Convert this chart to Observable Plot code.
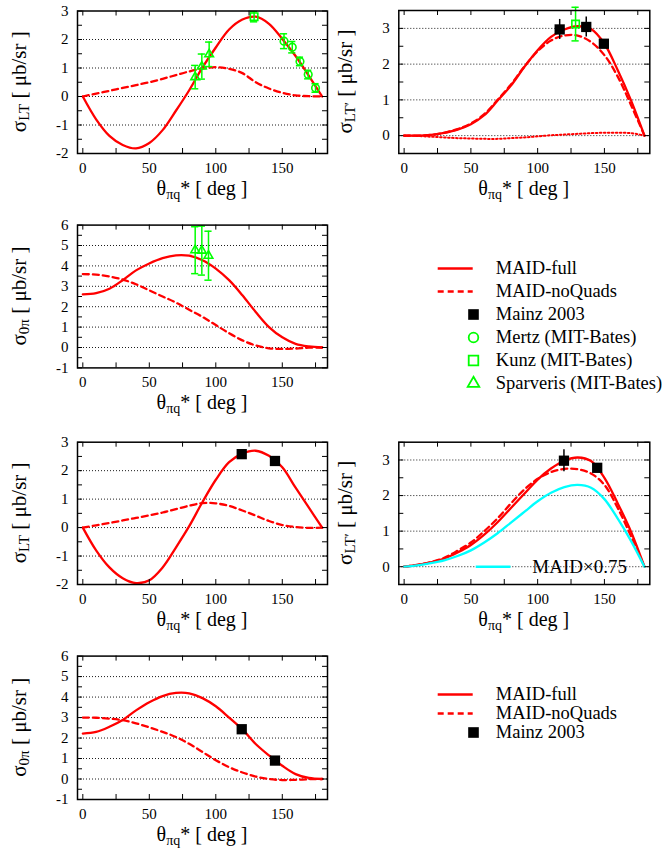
<!DOCTYPE html>
<html><head><meta charset="utf-8">
<script src="https://cdn.jsdelivr.net/npm/d3@7"></script>
<script src="https://cdn.jsdelivr.net/npm/@observablehq/plot@0.6"></script>
<style>
html,body{margin:0;padding:0;background:#fff;}
#root{position:relative;width:667px;height:852px;overflow:hidden;background:#fff;}
#root > svg{position:absolute;}
</style></head><body><div id="root"></div>
<script>
// ---------- data ----------
const theta = [0,10,20,30,40,50,60,70,80,90,100,110,120,130,140,150,160,170,180];

// panel 1: sigma_LT (upper group)
const p1Full     = [0,-0.8,-1.38,-1.7,-1.82,-1.63,-1.18,-0.5,0.22,1.02,1.72,2.35,2.7,2.8,2.55,2.02,1.42,0.72,0];
const p1NoQuads  = [0,0.1,0.2,0.3,0.4,0.5,0.62,0.75,0.88,0.98,1.03,0.97,0.82,0.5,0.28,0.13,0.04,0.01,0];
const p1SparTheta = [84.5,89.5,95];  const p1SparVal = [0.68,1.05,1.48];  const p1SparErr = [0.41,0.44,0.43];
const p1KunzTheta = [128.8];         const p1KunzVal = [2.8];             const p1KunzErr = [0.18];
const p1MertzTheta = [151.3,157.5,163.3,169.5,175]; const p1MertzVal = [1.94,1.73,1.23,0.77,0.3]; const p1MertzErr = [0.26,0.2,0.15,0.15,0.15];

// panel 2: sigma_LT' (upper group)
const p2Full     = [0,0,0.02,0.08,0.17,0.32,0.57,0.98,1.4,1.92,2.39,2.76,2.97,3.06,2.98,2.57,1.83,0.98,0];
const p2NoQuads  = [0,0,0.02,0.08,0.18,0.34,0.6,1.0,1.43,1.93,2.36,2.66,2.8,2.8,2.62,2.25,1.65,0.85,0];
const p2Dotted   = [0,-0.01,-0.03,-0.05,-0.07,-0.08,-0.09,-0.09,-0.07,-0.05,-0.02,0.01,0.03,0.05,0.07,0.08,0.08,0.07,0];
const p2MainzTheta = [116.5,136.4,149.6]; const p2MainzVal = [2.97,3.04,2.57]; const p2MainzErr = [0.28,0.28,0.1];
const p2KunzTheta = [128.4]; const p2KunzVal = [3.12]; const p2KunzErr = [0.47];

// panel 3: sigma_0pi (upper group)
const p3Full     = [2.6,2.66,2.88,3.3,3.78,4.12,4.38,4.52,4.5,4.28,3.87,3.3,2.56,1.74,1.0,0.5,0.18,0.05,0];
const p3NoQuads  = [3.6,3.57,3.48,3.33,3.1,2.8,2.5,2.2,1.85,1.5,1.1,0.7,0.35,0.1,-0.04,-0.07,-0.05,-0.01,0];
const p3SparTheta = [84.5,89.5,94.5]; const p3SparVal = [4.77,4.75,4.5]; const p3SparErr = [1.15,1.2,1.2];

// panel 4: sigma_LT (lower group)
const p4Full     = [0,-0.8,-1.4,-1.78,-1.95,-1.85,-1.4,-0.7,0.05,0.9,1.68,2.3,2.6,2.7,2.52,2.12,1.4,0.7,0];
const p4NoQuads  = [0,0.08,0.16,0.25,0.34,0.43,0.53,0.65,0.77,0.86,0.85,0.76,0.6,0.42,0.23,0.09,0.02,-0.01,0];
const p4MainzTheta = [119.5,144.5]; const p4MainzVal = [2.58,2.34]; const p4MainzErr = [0.06,0.06];

// panel 5: sigma_LT' (lower group)
const p5Full     = [0,0.05,0.12,0.23,0.4,0.61,0.9,1.25,1.65,2.05,2.45,2.76,2.98,3.07,2.97,2.5,1.78,0.98,0];
const p5NoQuads  = [0,0.05,0.13,0.25,0.45,0.68,1.0,1.36,1.78,2.17,2.47,2.66,2.75,2.74,2.62,2.3,1.65,0.85,0];
const p5Scaled   = [0,0.04,0.1,0.18,0.3,0.46,0.68,0.94,1.24,1.54,1.84,2.08,2.24,2.3,2.22,1.9,1.35,0.72,0];
const p5MainzTheta = [119.7,144.6]; const p5MainzVal = [2.98,2.78]; const p5MainzErr = [0.31,0.1];

// panel 6: sigma_0pi (lower group)
const p6Full     = [2.22,2.3,2.55,2.88,3.35,3.75,4.05,4.2,4.18,3.95,3.55,3.0,2.42,1.71,1.15,0.65,0.24,0.05,0];
const p6NoQuads  = [3.0,2.99,2.95,2.87,2.72,2.52,2.3,2.05,1.72,1.32,0.92,0.58,0.32,0.12,0.0,-0.05,-0.04,-0.01,0];
const p6MainzTheta = [119.5,144.5]; const p6MainzVal = [2.43,0.9]; const p6MainzErr = [0.05,0.05];

// tick labels / legends
const xTickLabels = [0,50,100,150];
const legendLabelsA = ["MAID-full","MAID-noQuads","Mainz 2003","Mertz (MIT-Bates)","Kunz (MIT-Bates)","Sparveris (MIT-Bates)"];
const legendLabelsB = ["MAID-full","MAID-noQuads","Mainz 2003"];
const scaledKeyLabel = ["MAID×0.75"];

// ---------- style ----------
const RED = "#ff0000", GREEN = "#00ff00", CYAN = "#00ffff";
const XDOM = [-4, 184];
const FONT = "'Liberation Serif','Times New Roman',serif";
const root = document.getElementById("root");

function rows(xs, ys, es) { return xs.map((x, i) => ({x, y: ys[i], e: es ? es[i] : 0})); }

const solid = v => ({values: v, color: RED});
const dashed = v => ({values: v, color: RED, dash: "6,4"});
const dotted = v => ({values: v, color: RED, dash: "1.6,2.4", width: 2});
const mainz = (x, y, e) => ({x, y, e, symbol: "square", r: 5.8, fill: "black", stroke: "none", color: "black"});
const mertz = (x, y, e) => ({x, y, e, symbol: "circle", r: 3.8, fill: "none", stroke: GREEN, color: GREEN, caps: 2.7});
const kunz = (x, y, e) => ({x, y, e, symbol: "square", r: 4.2, fill: "none", stroke: GREEN, color: GREEN, caps: 2.7});
const sparv = (x, y, e) => ({x, y, e, symbol: "triangle", r: 3.2, fill: "none", stroke: GREEN, color: GREEN, caps: 2.7});

function addYLabel(svg, x, y, sub) {
  const t = d3.select(svg).append("text")
    .attr("transform", `translate(${x},${y}) rotate(-90)`)
    .attr("text-anchor", "middle").attr("fill", "black")
    .style("font-size", "21px").style("font-family", FONT).style("white-space", "pre");
  t.append("tspan").text("σ");
  t.append("tspan").attr("dy", 3).style("font-size", "15px").text(sub);
  t.append("tspan").attr("dy", -3).text(" [ μb/sr ]");
}
function addXLabel(svg, x, y) {
  const t = d3.select(svg).append("text")
    .attr("x", x).attr("y", y)
    .attr("text-anchor", "middle").attr("fill", "black")
    .style("font-size", "20px").style("font-family", FONT).style("white-space", "pre");
  t.append("tspan").text("θ");
  t.append("tspan").attr("dy", 4).style("font-size", "14px").text("πq");
  t.append("tspan").attr("dy", -4).text("* [ deg ]");
}

function panel(o) {
  const innerH = o.fy1 - o.fy0, innerW = o.fx1 - o.fx0;
  const [y0, y1] = o.ydom;
  const yMajor = d3.range(Math.ceil(y0), Math.floor(y1) + 1);
  const yMinor = d3.range(Math.ceil(y0 * 2), Math.floor(y1 * 2) + 1).map(v => v / 2);
  const grid = yMajor.filter(v => v > y0 && v < y1);
  const xTicks = d3.range(0, 180, 25);
  const marks = [];
  marks.push(Plot.ruleY(grid, {y: d => d, stroke: "black", strokeWidth: 0.9, strokeDasharray: "1,2"}));
  for (const c of o.curves) {
    marks.push(Plot.line(rows(theta, c.values), {x: "x", y: "y", stroke: c.color, strokeWidth: c.width || 2.3,
      strokeDasharray: c.dash, curve: "catmull-rom", clip: true}));
  }
  if (o.extra) marks.push(...o.extra);
  for (const p of (o.points || [])) {
    const data = rows(p.x, p.y, p.e);
    marks.push(Plot.ruleX(data, {x: "x", y1: d => d.y - d.e, y2: d => d.y + d.e, stroke: p.color, strokeWidth: 1.5}));
    if (p.caps) {
      marks.push(Plot.ruleY(data, {y: d => d.y + d.e, x1: d => d.x - p.caps, x2: d => d.x + p.caps, stroke: p.color, strokeWidth: 1.5}));
      marks.push(Plot.ruleY(data, {y: d => d.y - d.e, x1: d => d.x - p.caps, x2: d => d.x + p.caps, stroke: p.color, strokeWidth: 1.5}));
    }
    marks.push(Plot.dot(data, {x: "x", y: "y", symbol: p.symbol, r: p.r, fill: p.fill, stroke: p.stroke, strokeWidth: 1.6}));
  }
  marks.push(Plot.frame({stroke: "black", strokeWidth: 1.5}));
  marks.push(Plot.tickX(xTicks, {x: d => d, insetTop: innerH - 5, stroke: "black", strokeWidth: 1}));
  marks.push(Plot.tickX(xTicks, {x: d => d, insetBottom: innerH - 5, stroke: "black", strokeWidth: 1}));
  marks.push(Plot.tickY(yMinor, {y: d => d, insetRight: innerW - 5, stroke: "black", strokeWidth: 1}));
  marks.push(Plot.tickY(yMinor, {y: d => d, insetLeft: innerW - 5, stroke: "black", strokeWidth: 1}));

  const svg = Plot.plot({
    width: o.width, height: o.height,
    marginLeft: o.fx0 - o.left, marginRight: o.left + o.width - o.fx1,
    marginTop: o.fy0 - o.top, marginBottom: o.top + o.height - o.fy1,
    x: {domain: XDOM, ticks: xTickLabels, tickSize: 0, tickPadding: 8.5, label: null, tickFormat: d => String(d)},
    y: {domain: o.ydom, ticks: yMajor, tickSize: 0, tickPadding: 9, label: null,
        tickFormat: d => d < 0 ? "-" + (-d) : String(d)},
    style: {fontFamily: FONT, fontSize: "15px", background: "none", color: "black", overflow: "visible"},
    marks
  });
  svg.style.left = o.left + "px";
  svg.style.top = o.top + "px";
  addYLabel(svg, o.ylabX - o.left, (o.fy0 + o.fy1) / 2 - o.top, o.sub);
  addXLabel(svg, (o.fx0 + o.fx1) / 2 - o.left, o.fy1 + 42 - o.top);
  root.appendChild(svg);
}

// legend layout (page px)
const SX1 = 437.7, SX2 = 472.7, MX = 473, TX = 495.3;
function legend(o) {
  const L = o.labels;
  const marks = [
    Plot.ruleY([L[0]], {y: d => d, x1: SX1, x2: SX2, stroke: RED, strokeWidth: 2.3}),
    Plot.ruleY([L[1]], {y: d => d, x1: SX1, x2: SX2, stroke: RED, strokeWidth: 2.3, strokeDasharray: "6,4"}),
    Plot.dot([L[2]], {y: d => d, x: MX, symbol: "square", r: 6, fill: "black"})
  ];
  if (L.length > 3) {
    marks.push(Plot.dot([L[3]], {y: d => d, x: MX, symbol: "circle", r: 4.8, fill: "none", stroke: GREEN, strokeWidth: 1.8}));
    marks.push(Plot.dot([L[4]], {y: d => d, x: MX, symbol: "square", r: 5.4, fill: "none", stroke: GREEN, strokeWidth: 1.8}));
    marks.push(Plot.dot([L[5]], {y: d => d, x: MX, symbol: "triangle", r: 4.3, fill: "none", stroke: GREEN, strokeWidth: 1.8}));
  }
  marks.push(Plot.text(L, {y: d => d, x: TX, text: d => d, textAnchor: "start", fontSize: 18.5, fill: "black"}));
  const svg = Plot.plot({
    width: o.width, height: o.height, margin: 0,
    x: {domain: [o.left, o.left + o.width], range: [0, o.width], axis: null},
    y: {type: "point", domain: L, range: [o.y0 - o.top, o.y1 - o.top], axis: null},
    style: {fontFamily: FONT, fontSize: "18.5px", background: "none", color: "black", overflow: "visible"},
    marks
  });
  svg.style.left = o.left + "px";
  svg.style.top = o.top + "px";
  root.appendChild(svg);
}

// ---------- panels ----------
panel({left: 0, top: 0, width: 333, height: 210, fx0: 77, fx1: 327, fy0: 10.5, fy1: 153,
  ydom: [-2, 3], sub: "LT", ylabX: 26,
  curves: [solid(p1Full), dashed(p1NoQuads)],
  points: [sparv(p1SparTheta, p1SparVal, p1SparErr), kunz(p1KunzTheta, p1KunzVal, p1KunzErr), mertz(p1MertzTheta, p1MertzVal, p1MertzErr)]});

panel({left: 333, top: 0, width: 334, height: 210, fx0: 398.3, fx1: 649.3, fy0: 10, fy1: 153,
  ydom: [-0.5, 3.5], sub: "LT′", ylabX: 352,
  curves: [solid(p2Full), dashed(p2NoQuads), dotted(p2Dotted)],
  points: [mainz(p2MainzTheta, p2MainzVal, p2MainzErr), kunz(p2KunzTheta, p2KunzVal, p2KunzErr)]});

panel({left: 0, top: 215, width: 333, height: 205, fx0: 77, fx1: 327, fy0: 224.6, fy1: 367.4,
  ydom: [-1, 6], sub: "0π", ylabX: 26,
  curves: [solid(p3Full), dashed(p3NoQuads)],
  points: [sparv(p3SparTheta, p3SparVal, p3SparErr)]});

legend({left: 400, top: 235, width: 267, height: 175, y0: 254, y1: 396, labels: legendLabelsA});

panel({left: 0, top: 425, width: 333, height: 210, fx0: 77, fx1: 327, fy0: 441.7, fy1: 584,
  ydom: [-2, 3], sub: "LT", ylabX: 26,
  curves: [solid(p4Full), dashed(p4NoQuads)],
  points: [mainz(p4MainzTheta, p4MainzVal, p4MainzErr)]});

panel({left: 333, top: 425, width: 334, height: 210, fx0: 398.3, fx1: 649.3, fy0: 441.7, fy1: 584,
  ydom: [-0.5, 3.5], sub: "LT′", ylabX: 352,
  curves: [solid(p5Full), dashed(p5NoQuads), {values: p5Scaled, color: CYAN}],
  extra: [
    Plot.ruleY([0], {y: d => d, x1: 54, x2: 80, stroke: CYAN, strokeWidth: 2.5}),
    Plot.text(scaledKeyLabel, {x: 96, y: 0, text: d => d, textAnchor: "start", fontSize: 19, fill: "black"})
  ],
  points: [mainz(p5MainzTheta, p5MainzVal, p5MainzErr)]});

panel({left: 0, top: 640, width: 333, height: 212, fx0: 77, fx1: 327, fy0: 655.6, fy1: 799,
  ydom: [-1, 6], sub: "0π", ylabX: 26,
  curves: [solid(p6Full), dashed(p6NoQuads)],
  points: [mainz(p6MainzTheta, p6MainzVal, p6MainzErr)]});

legend({left: 400, top: 665, width: 267, height: 90, y0: 684, y1: 741, labels: legendLabelsB});
</script>
</body></html>
